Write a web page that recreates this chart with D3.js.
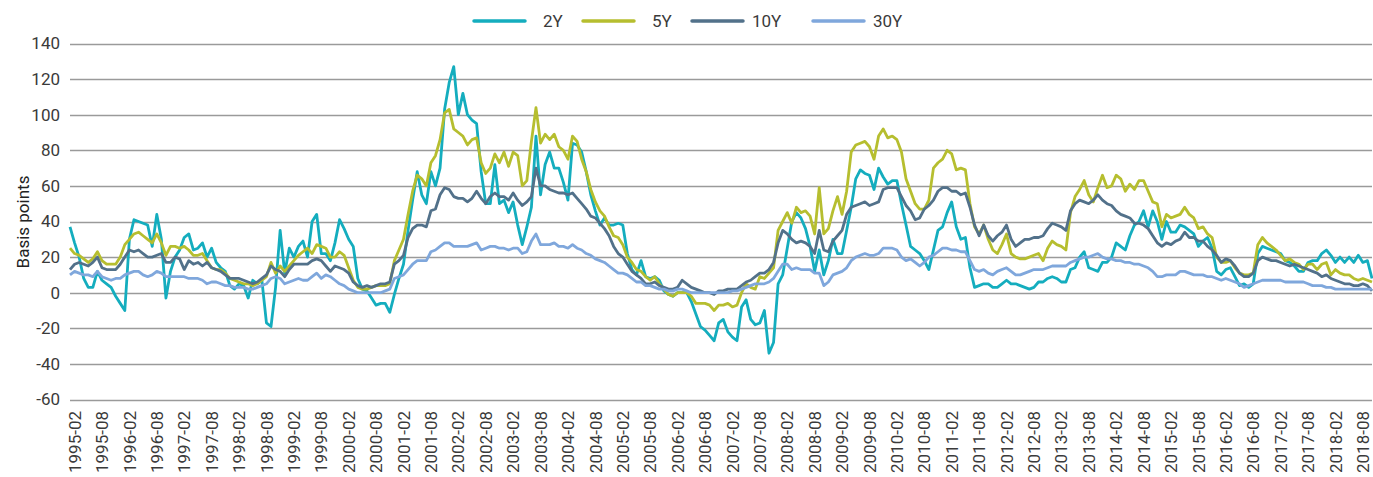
<!DOCTYPE html>
<html>
<head>
<meta charset="utf-8">
<script src="https://cdn.jsdelivr.net/npm/d3@7"></script>
<style>
  html, body { margin: 0; padding: 0; background: #ffffff; }
  svg { display: block; font-family: Roboto, "Noto Sans", "Liberation Sans", sans-serif; }
</style>
</head>
<body>
<svg id="chart" width="1373" height="477"></svg>
<script>
// ---- Data (basis points, monthly from 1995-02) ----
const seriesNames = ["2Y", "5Y", "10Y", "30Y"];
const startYear = 1995, startMonth = 2, monthCount = 286;

const y2 = [37,28,20,8,3,3,12,7,5,3,
 -2,-6,-10,30,41,40,39,38,26,44,
 30,-3,12,20,24,31,33,24,25,28,
 20,25,17,14,12,4,2,5,4,-3,
 7,5,7,-17,-19,3,35,11,25,20,
 26,29,20,40,44,22,22,18,28,41,
 36,30,26,8,2,1,-3,-7,-6,-6,
 -11,-1,8,16,35,52,68,55,50,68,
 60,70,103,118,127,100,112,100,97,95,
 68,50,50,72,50,52,45,51,38,27,
 37,48,88,55,72,79,70,70,62,52,
 84,83,79,68,55,46,38,42,38,38,
 39,38,22,13,10,18,9,8,9,7,
 1,-1,-2,0,0,0,-5,-12,-19,-21,
 -24,-27,-17,-15,-22,-25,-27,-8,-4,-15,
 -18,-17,-10,-34,-28,5,10,25,40,45,
 42,36,26,12,24,10,18,30,22,22,
 35,48,64,69,67,66,58,70,65,61,
 63,63,50,38,26,24,22,18,13,24,
 35,37,45,51,37,30,31,14,3,4,
 5,5,3,3,5,7,5,5,4,3,
 2,3,6,6,8,9,8,6,6,13,
 14,20,23,14,13,12,17,17,20,28,
 26,24,32,38,40,46,37,46,40,30,
 40,34,34,38,37,35,33,26,29,31,
 25,12,10,13,14,9,4,5,3,5,
 22,26,25,24,23,22,18,17,15,12,
 12,17,18,18,22,24,21,17,20,17,
 20,17,21,17,18,8];

const y5 = [25,22,21,19,17,19,23,18,16,16,
 16,20,27,30,33,34,32,30,28,33,
 28,21,26,26,25,26,24,21,21,22,
 18,14,13,13,11,8,7,6,5,5,
 4,5,7,9,17,11,15,12,15,18,
 21,23,25,22,27,26,25,20,20,23,
 21,14,7,3,2,2,3,4,4,4,
 5,18,24,30,44,57,66,64,60,73,
 77,86,101,103,92,90,88,83,86,87,
 73,67,70,78,73,79,71,79,77,60,
 63,85,104,84,89,86,89,82,80,75,
 88,85,75,68,58,51,46,43,37,32,
 31,27,20,17,13,12,9,7,9,5,
 2,-1,-2,0,0,0,-2,-6,-6,-6,
 -7,-10,-7,-7,-6,-8,-7,0,5,3,
 2,9,8,11,14,35,40,45,39,48,
 45,46,43,33,59,33,36,46,54,44,
 57,79,83,84,85,82,75,88,92,87,
 88,86,79,64,57,50,47,47,52,70,
 73,75,80,78,69,70,69,50,37,33,
 38,30,24,22,27,33,22,20,19,19,
 20,21,22,18,25,29,27,26,24,45,
 54,58,63,55,51,59,66,59,60,66,
 64,57,61,58,63,63,57,51,50,37,
 44,42,43,44,48,44,42,36,37,33,
 31,20,17,17,18,14,11,10,10,11,
 27,31,28,26,24,21,18,19,17,16,
 13,16,16,13,16,17,10,13,11,10,
 10,8,7,8,7,6];

const y10 = [13,16,17,16,15,17,20,14,13,13,
 13,16,20,24,23,24,22,20,20,21,
 22,17,17,20,19,13,18,16,17,15,
 17,14,13,12,10,8,8,8,7,6,
 5,6,8,10,15,13,12,9,13,16,
 16,16,16,18,19,18,15,12,15,14,
 13,11,6,4,3,4,3,4,5,5,
 6,16,18,21,31,36,38,38,37,46,
 47,55,59,58,54,53,53,51,53,57,
 53,50,54,56,54,54,52,56,52,49,
 51,54,70,60,60,58,57,56,56,55,
 56,53,50,47,43,42,39,36,32,26,
 22,20,16,12,10,8,5,5,6,4,
 3,2,2,3,7,5,3,2,1,0,
 0,-1,1,1,2,2,2,4,6,7,
 9,11,11,13,17,28,35,33,30,28,
 29,28,26,22,35,24,23,29,32,35,
 44,48,49,50,51,49,50,51,58,59,
 59,59,54,49,46,41,42,47,49,52,
 57,59,59,57,57,55,56,48,38,32,
 38,32,29,32,34,38,30,26,28,30,
 30,31,31,32,36,39,38,37,35,46,
 50,52,51,50,52,55,52,50,49,46,
 44,43,42,39,39,38,36,32,28,26,
 28,27,29,30,34,31,31,29,29,26,
 24,21,17,19,18,15,11,9,9,11,
 18,20,19,18,18,17,16,15,16,15,
 14,13,12,11,9,10,8,7,6,5,
 5,4,4,5,4,1];

const y30 = [10,12,11,10,10,9,12,9,8,7,
 8,8,10,11,12,12,10,9,10,12,
 11,9,9,9,9,9,8,8,8,7,
 5,6,6,5,4,4,3,3,3,2,
 2,3,4,5,8,9,8,5,6,7,
 8,7,7,9,11,8,10,9,7,5,
 4,2,1,0,0,0,0,0,0,1,
 2,8,9,10,13,16,18,18,18,23,
 24,26,28,28,26,26,26,26,27,28,
 24,25,26,26,25,25,24,25,25,22,
 23,29,33,27,27,27,28,26,26,25,
 27,25,24,22,21,19,18,17,15,13,
 11,11,10,8,6,6,4,4,3,2,
 2,1,1,2,2,1,0,0,0,0,
 0,0,0,0,0,1,1,2,3,4,
 5,5,5,6,8,12,16,16,13,14,
 13,13,13,11,11,4,6,10,11,12,
 14,18,20,21,22,21,21,22,25,25,
 25,24,20,18,19,17,15,17,20,21,
 23,25,25,24,24,23,23,18,13,12,
 13,11,10,12,13,14,12,10,10,11,
 12,13,13,13,14,15,15,15,15,17,
 18,19,20,20,21,22,20,19,19,18,
 18,17,17,16,16,15,14,12,9,9,
 10,10,10,12,12,11,10,10,10,9,
 9,8,7,8,7,6,5,3,4,5,
 6,7,7,7,7,7,6,6,6,6,
 6,5,4,4,4,3,3,2,2,2,
 2,2,2,2,2,2];

const yTicks = [-60,-40,-20,0,20,40,60,80,100,120,140];
const xTickLabels = ["1995-02","1995-08","1996-02","1996-08","1997-02","1997-08","1998-02","1998-08",
 "1999-02","1999-08","2000-02","2000-08","2001-02","2001-08","2002-02","2002-08","2003-02","2003-08",
 "2004-02","2004-08","2005-02","2005-08","2006-02","2006-08","2007-02","2007-08","2008-02","2008-08",
 "2009-02","2009-08","2010-02","2010-08","2011-02","2011-08","2012-02","2012-08","2013-02","2013-08",
 "2014-02","2014-08","2015-02","2015-08","2016-02","2016-08","2017-02","2017-08","2018-02","2018-08"];

// ---- Build month categories ----
const months = [];
for (let k = 0; k < monthCount; k++) {
  const m0 = startMonth - 1 + k;
  const yy = startYear + Math.floor(m0 / 12);
  const mm = (m0 % 12) + 1;
  months.push(yy + "-" + String(mm).padStart(2, "0"));
}
const seriesValues = [y2, y5, y10, y30];
const colors = ["#14adbe", "#b6be2f", "#52718a", "#7fa7dc"];

// ---- Layout ----
const svg = d3.select("#chart");
const plotLeft = 70, plotRight = 1372, plotTop = 43.5, plotBottom = 399.5;
const x = d3.scalePoint().domain(months).range([plotLeft, plotRight]);
const y = d3.scaleLinear().domain([-60, 140]).range([plotBottom, plotTop]);
const textColor = "#3a3a3a";

// gridlines
svg.append("g").selectAll("line").data(yTicks).join("line")
  .attr("x1", plotLeft).attr("x2", plotRight)
  .attr("y1", d => Math.round(y(d)) + 0.5).attr("y2", d => Math.round(y(d)) + 0.5)
  .attr("stroke", "#9a9a9a").attr("stroke-width", 1.3);

// y axis labels (plain hyphen-minus as in the reference)
const yAxis = d3.axisLeft(y).tickValues(yTicks).tickFormat(d => String(d)).tickSize(0).tickPadding(0);
const gy = svg.append("g").attr("transform", "translate(60,0)").call(yAxis);
gy.select(".domain").remove();
gy.selectAll("text").attr("font-size", 17).attr("fill", textColor)
  .attr("font-family", "Roboto, sans-serif");

// x axis labels
const xAxis = d3.axisBottom(x).tickValues(xTickLabels).tickSize(0).tickPadding(0);
const gx = svg.append("g").attr("transform", "translate(0,411)").call(xAxis);
gx.select(".domain").remove();
gx.selectAll("text")
  .attr("font-size", 17).attr("fill", textColor).attr("font-family", "Roboto, sans-serif")
  .attr("text-anchor", "end")
  .attr("transform", "rotate(-90)")
  .attr("x", 0).attr("y", 0).attr("dx", 0).attr("dy", "0.6em");

// y title
svg.append("text")
  .attr("transform", "translate(29,222) rotate(-90)")
  .attr("text-anchor", "middle")
  .attr("font-size", 17).attr("fill", "#222")
  .text("Basis points");

// lines
const line = d3.line().x((d, k) => x(months[k])).y(d => y(d));
svg.append("g").selectAll("path").data(seriesValues).join("path")
  .attr("d", d => line(d))
  .attr("fill", "none")
  .attr("stroke", (d, k) => colors[k])
  .attr("stroke-width", 2.8)
  .attr("stroke-linejoin", "round");

// legend
const legendLineX = [474, 583, 692, 813];
const legendTextX = [543, 652, 752, 873];
const lg = svg.append("g");
seriesNames.forEach((name, k) => {
  lg.append("line")
    .attr("x1", legendLineX[k]).attr("x2", legendLineX[k] + 51)
    .attr("y1", 21).attr("y2", 21)
    .attr("stroke", colors[k]).attr("stroke-width", 3.5).attr("stroke-linecap", "round");
  lg.append("text")
    .attr("x", legendTextX[k]).attr("y", 27)
    .attr("font-size", 17).attr("fill", textColor)
    .text(name);
});
</script>
</body>
</html>
